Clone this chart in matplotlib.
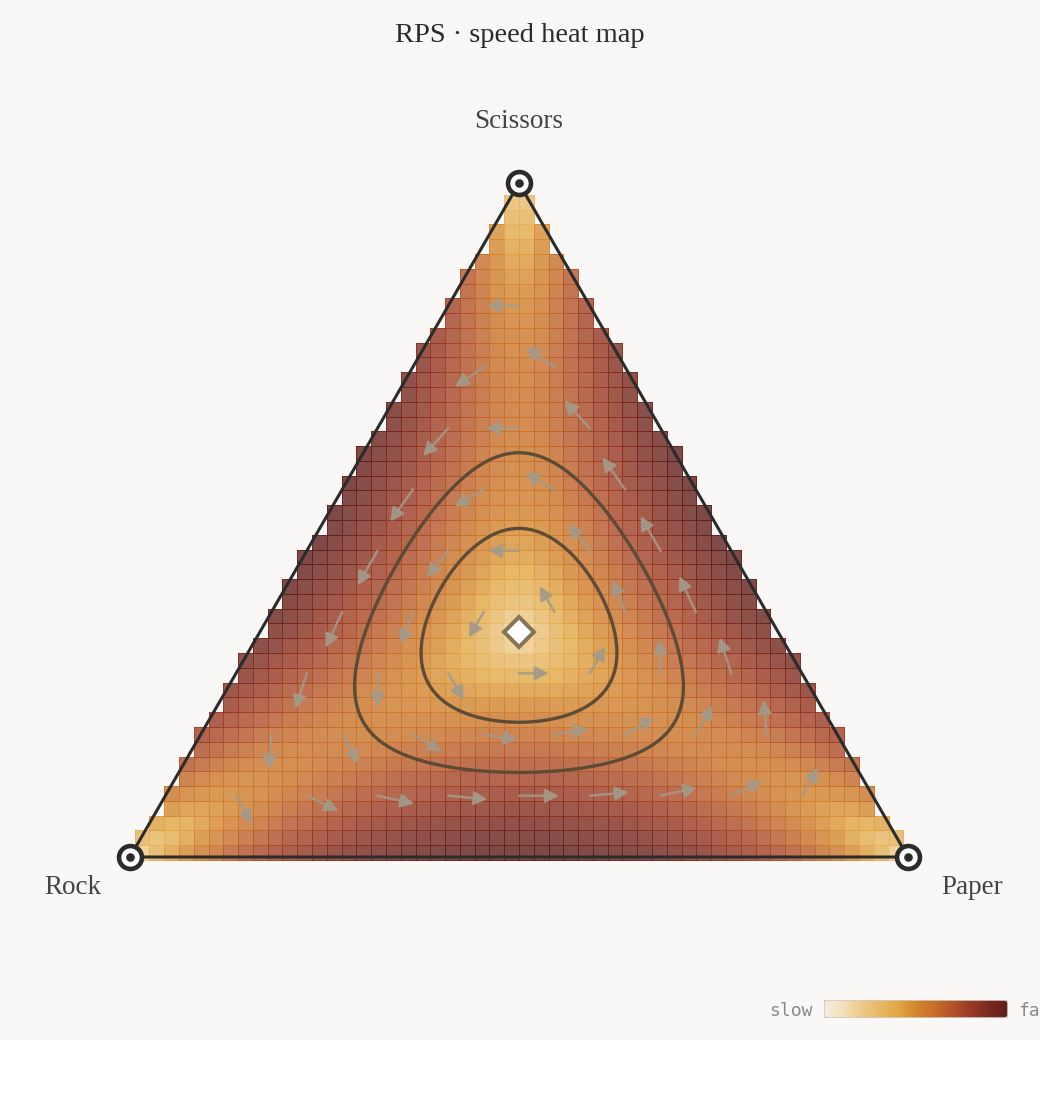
import numpy as np
import matplotlib
matplotlib.use('Agg')
import matplotlib.pyplot as plt
from matplotlib.colors import LinearSegmentedColormap
from matplotlib.patches import FancyArrowPatch, Rectangle, FancyBboxPatch

# --- data ---
strategies = ['Rock', 'Paper', 'Scissors']
# payoff of row strategy against column strategy (R, P, S)
payoff = np.array([[0, -1, 1],
                   [1, 0, -1],
                   [-1, 1, 0]], dtype=float)
orbit_levels = [0.024, 0.032]      # value of x_R*x_P*x_S on the two drawn orbits
cell = 0.019                        # heat map cell (simplex side = 1)
arrow_steps = 11                    # arrows sit on the 1/11 lattice
heat_colors = ['#f8efe1', '#f3e0bb', '#eecb8a', '#e8b866', '#e2a845',
               '#d4862f', '#c86f2b', '#b2522a', '#9a3a24', '#7a2a20', '#5e1e1b']

BG = '#f9f8f6'
INK = '#2b2b2b'
cmap = LinearSegmentedColormap.from_list('speed', heat_colors)

# corners in the plane
corners = np.array([[0.0, 0.0], [1.0, 0.0], [0.5, np.sqrt(3) / 2]])


def to_bary(px, py):
    s = 2 * py / np.sqrt(3)
    p = px - 0.5 * s
    r = 1 - p - s
    return np.stack([r, p, s], axis=-1)


def replicator(x):
    fit = x @ payoff.T
    avg = np.sum(x * fit, axis=-1, keepdims=True)
    return x * (fit - avg)


# --- figure: one axes over the whole canvas, 778 px per unit ---
W, H, scale = 1040, 1120, 778.0
ox, oy = 130, 1120 - 857       # Rock corner in pixels (from bottom-left)
fig = plt.figure(figsize=(W / 100, H / 100), dpi=100, facecolor='white')
fig.patches.append(Rectangle((0, 80 / H), 1, 1 - 80 / H, transform=fig.transFigure,
                             facecolor=BG, edgecolor='none', zorder=-10))
ax = fig.add_axes([0, 0, 1, 1])
ax.set_xlim(-ox / scale, (W - ox) / scale)
ax.set_ylim(-oy / scale, (H - oy) / scale)
ax.set_axis_off()
ax.patch.set_alpha(0)

# --- heat map cells ---
xe = 0.5 + cell * np.arange(-27, 28)
ye = -3 / scale + cell * np.arange(0, 47)
cx, cy = np.meshgrid((xe[:-1] + xe[1:]) / 2, (ye[:-1] + ye[1:]) / 2)
bc = to_bary(cx, cy)
inside = np.all(bc >= 0, axis=-1)
speed = np.linalg.norm(replicator(bc), axis=-1)
vmax = speed[inside].max()
heat = np.ma.masked_where(~inside, np.sqrt(speed / vmax))
ax.pcolormesh(xe, ye, heat, cmap=cmap, vmin=0, vmax=1, alpha=0.8,
              edgecolors='face', linewidth=0.7, zorder=1)

# --- flow arrows ---
for i in range(1, arrow_steps):
    for j in range(1, arrow_steps - i):
        k = arrow_steps - i - j
        x = np.array([i, j, k], dtype=float) / arrow_steps
        dx = replicator(x)
        start = x @ corners
        v = dx @ corners
        norm = np.linalg.norm(dx) / vmax
        length = (27 + 19 * norm) / scale
        end = start + v / np.linalg.norm(v) * length
        ax.add_patch(FancyArrowPatch(start, end,
                                     arrowstyle='-|>,head_length=0.5,head_width=0.26',
                                     mutation_scale=16, lw=1.8, color='#a39a8a',
                                     alpha=0.85, shrinkA=0, shrinkB=0, zorder=2))

# --- orbits (level sets of x_R*x_P*x_S) ---
gx, gy = np.meshgrid(np.linspace(0, 1, 500), np.linspace(0, np.sqrt(3) / 2, 450))
prod = np.prod(to_bary(gx, gy), axis=-1)
ax.contour(gx, gy, prod, levels=orbit_levels, colors='#5e4b36',
           linewidths=2.4, zorder=3)

# --- simplex outline, corners and interior rest point ---
tri = np.vstack([corners, corners[:1]])
ax.plot(tri[:, 0], tri[:, 1], color=INK, lw=2.2, zorder=4, solid_joinstyle='miter')
ax.plot(corners[:, 0], corners[:, 1], 'o', ms=16.5, mfc='white', mec=INK, mew=3.3, zorder=5)
ax.plot(corners[:, 0], corners[:, 1], 'o', ms=6.2, mfc=INK, mec='none', zorder=6)
centre = np.ones(3) / 3 @ corners
ax.plot(centre[0], centre[1], 'D', ms=15, mfc='white', mec='#8a7356', mew=2.9, zorder=6)

# corner labels
label_font = dict(family='Liberation Serif', fontsize=19.5, color='#444444')
ax.text(corners[2, 0], (857 - 121) / scale, strategies[2], ha='center', va='center', **label_font)
ax.text((73 - ox) / scale, (857 - 887) / scale, strategies[0], ha='center', va='center', **label_font)
ax.text((972 - ox) / scale, (857 - 887) / scale, strategies[1], ha='center', va='center', **label_font)

fig.text(0.5, 1 - 35 / H, 'RPS · speed heat map', ha='center', va='center',
         family='Liberation Serif', fontsize=20.5, color='#2a2a2a')

# --- colour legend ---
cax = fig.add_axes([824 / W, (H - 1018) / H, 184 / W, 18 / H])
cax.set_axis_off()
im = cax.imshow(np.linspace(0, 1, 256)[None, :], cmap=cmap, aspect='auto',
                extent=(0, 1, 0, 1))
box = FancyBboxPatch((0, 0), 1, 1, boxstyle='round,pad=0,rounding_size=0.02',
                     mutation_aspect=10.2, transform=cax.transAxes,
                     facecolor='none', edgecolor='#cfcac4', lw=1.2)
cax.add_patch(box)
im.set_clip_path(box)
mono = dict(family='DejaVu Sans Mono', fontsize=13, color='#8a8a8a', va='center')
fig.text(813 / W, 1 - 1011 / H, 'slow', ha='right', **mono)
fig.text(1018 / W, 1 - 1011 / H, 'fast', ha='left', **mono)

fig.savefig('out.png', dpi=100, facecolor=fig.get_facecolor())
